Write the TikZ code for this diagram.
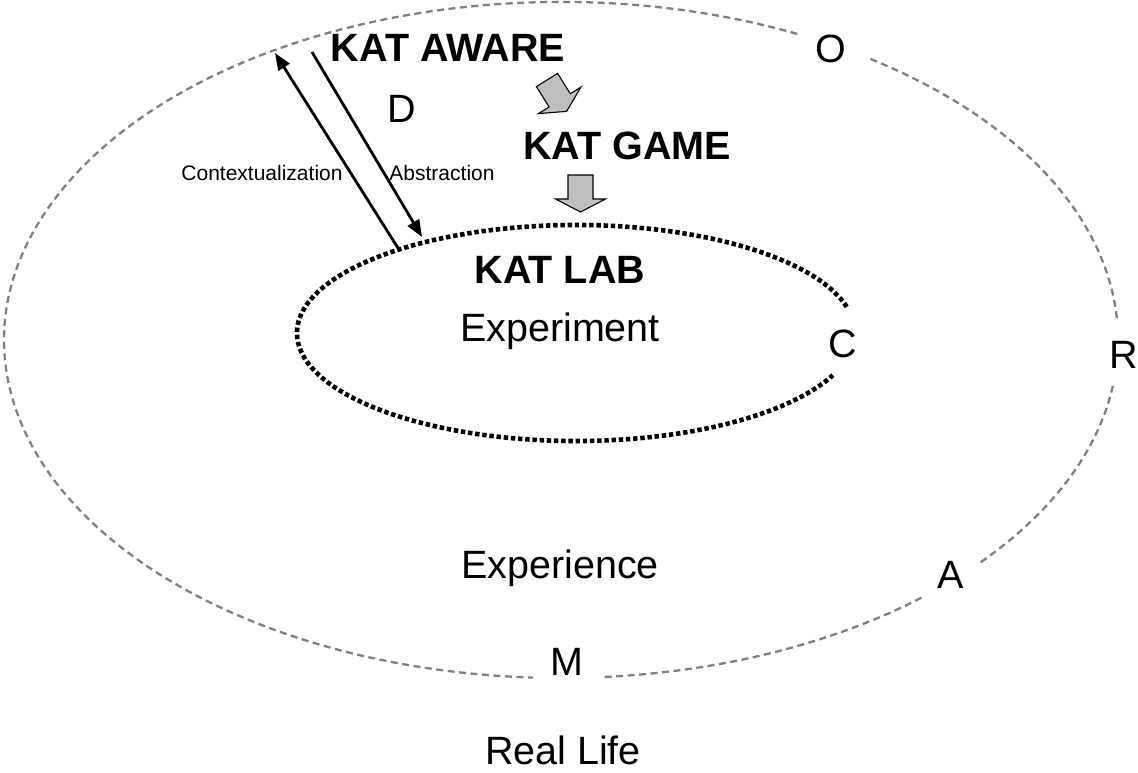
\documentclass[tikz,border=0pt]{standalone}
\usepackage{fontspec}
\setmainfont{Liberation Sans}
\usetikzlibrary{arrows.meta,calc}
\definecolor{dashgray}{RGB}{128,128,128}
\definecolor{blockgray}{RGB}{192,192,192}
\tikzset{
  big/.style={inner sep=0pt, anchor=base, font=\fontsize{39.5}{41}\selectfont},
  bigbold/.style={big, font=\fontsize{39.5}{41}\selectfont\bfseries},
  small/.style={inner sep=0pt, anchor=base, font=\fontsize{21}{23}\selectfont},
  outerline/.style={draw=dashgray, line width=2.3pt, dash pattern=on 7pt off 4.5pt},
  innerline/.style={draw=black, line width=4.6pt, dash pattern=on 4.4pt off 2.8pt},
  linkarrow/.style={draw=black, line width=2.8pt, -{Triangle[length=17pt,width=13pt]}},
  blockfill/.style={fill=blockgray, draw=black, line width=1.1pt, line join=miter},
  pics/blockdown/.style={code={
    \path[blockfill] (-12.5,0) -- (12.5,0) -- (12.5,-24) -- (25,-24) -- (0,-37) -- (-25,-24) -- (-12.5,-24) -- cycle;}}
}
\begin{document}
\begin{tikzpicture}[x=1pt,y=1pt]
\useasboundingbox (0,0) rectangle (1138,-773);
% centres of the two ellipses
\coordinate (oc) at (561,-340);
\coordinate (ic) at (576,-333);
% outer dashed ellipse with gaps at O, R, A, M
\path[outerline] (oc) ++(64.9:557pt and 338pt) arc[start angle=64.9, end angle=267.1, x radius=557pt, y radius=338pt];
\path[outerline] (oc) ++(-85.5:557pt and 338pt) arc[start angle=-85.5, end angle=-49.5, x radius=557pt, y radius=338pt];
\path[outerline] (oc) ++(-41.1:557pt and 338pt) arc[start angle=-41.1, end angle=-7.8, x radius=557pt, y radius=338pt];
\path[outerline] (oc) ++(3.7:557pt and 338pt) arc[start angle=3.7, end angle=56.7, x radius=557pt, y radius=338pt];
% inner dotted ellipse with gap at C
\path[innerline] (ic) ++(14:279pt and 108pt) arc[start angle=14, end angle=337, x radius=279pt, y radius=108pt];
% texts
\node[bigbold] (aware) at (448,-62) {KAT AWARE};
\node[big] (d) at (402,-123) {D};
\node[bigbold] (game) at (627,-160) {KAT GAME};
\node[small] (ctx) at (262,-181) {Contextualization};
\node[small] (abs) at (442,-181) {Abstraction};
\node[big] (o) at (831,-63) {O};
\node[bigbold] (lab) at (560,-283) {KAT LAB};
\node[big] (exp) at (560,-341) {Experiment};
\node[big] (c) at (843,-357) {C};
\node[big] (r) at (1124,-368) {R};
\node[big] (expc) at (560,-578) {Experience};
\node[big] (a) at (951,-588) {A};
\node[big] (m) at (567,-675) {M};
\node[big] (life) at (563,-764) {Real Life};
% arrow end points on the ellipses
\coordinate (ctxS) at (398,-248);
\coordinate (ctxE) at (275,-53);
\coordinate (absS) at (312,-52);
\coordinate (absE) at (422,-237);
\draw[linkarrow] (ctxS) -- (ctxE);
\draw[linkarrow] (absS) -- (absE);
% block arrows
\pic[rotate=32] at (547,-80) {blockdown};
\pic at (580.5,-175) {blockdown};
\end{tikzpicture}
\end{document}
